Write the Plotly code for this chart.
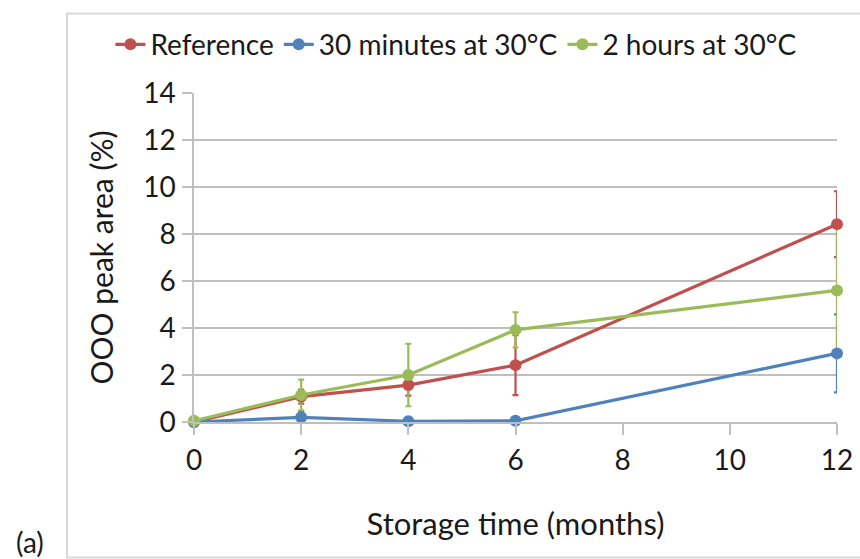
import plotly.graph_objects as go

# ---- data ----
months = [0, 2, 4, 6, 12]
series_names = ["Reference", "30 minutes at 30°C", "2 hours at 30°C"]
reference = [0.0, 1.08, 1.57, 2.42, 8.42]
reference_err = [0.0, 0.30, 0.45, 1.28, 1.40]
min30 = [0.0, 0.20, 0.03, 0.05, 2.92]
min30_err = [0.0, 0.25, 0.08, 0.10, 1.66]
hours2 = [0.05, 1.15, 2.00, 3.92, 5.60]
hours2_err = [0.0, 0.65, 1.33, 0.75, 2.75]
x_ticks = [0, 2, 4, 6, 8, 10, 12]
y_ticks = [0, 2, 4, 6, 8, 10, 12, 14]

colors = ["#C0504D", "#4F81BD", "#9BBB59"]
values = [reference, min30, hours2]
errors = [reference_err, min30_err, hours2_err]

FONT = "Lato, 'Open Sans', sans-serif"

fig = go.Figure()

# error bars first, so that all markers sit on top of them
for vals, errs, col in zip(values, errors, colors):
    fig.add_trace(go.Scatter(
        x=months, y=vals, mode="markers",
        marker=dict(size=2, color="rgba(0,0,0,0)"),
        error_y=dict(type="data", array=errs, visible=True,
                     color=col, thickness=2.2, width=3),
        showlegend=False, hoverinfo="skip", cliponaxis=False,
    ))

for name, vals, col in zip(series_names, values, colors):
    fig.add_trace(go.Scatter(
        x=months, y=vals, mode="lines+markers", name=name,
        line=dict(color=col, width=3.2),
        marker=dict(color=col, size=12, symbol="circle"),
        cliponaxis=False,
    ))

axis_grey = "#BFBFBF"
fig.update_layout(
    width=860, height=559,
    margin=dict(l=194, r=23, t=93, b=137, autoexpand=False),
    paper_bgcolor="white", plot_bgcolor="white",
    font=dict(family=FONT, size=28, color="#1a1a1a"),
    showlegend=True,
    legend=dict(orientation="h", x=-0.13, xanchor="left",
                y=1.147, yanchor="middle",
                font=dict(family=FONT, size=28, color="#1a1a1a"),
                itemwidth=30, tracegroupgap=0, bgcolor="rgba(0,0,0,0)"),
    xaxis=dict(range=[0, 12], tickvals=x_ticks, showgrid=False,
               showline=True, linecolor=axis_grey, linewidth=1.5,
               ticks="outside", ticklen=11, tickcolor=axis_grey, tickwidth=1.5,
               zeroline=False, ticklabelstandoff=2, automargin=False,
               tickfont=dict(family=FONT, size=28),
               title=dict(text="Storage time (months)", standoff=38,
                          font=dict(family=FONT, size=31))),
    yaxis=dict(range=[0, 14], tickvals=y_ticks, showgrid=True,
               gridcolor=axis_grey, gridwidth=1.5,
               showline=True, linecolor=axis_grey, linewidth=1.5,
               ticks="outside", ticklen=10, tickcolor=axis_grey, tickwidth=1.5,
               zeroline=False, ticklabelstandoff=1, automargin=False,
               tickfont=dict(family=FONT, size=28),
               title=dict(text="OOO peak area (%)", standoff=21,
                          font=dict(family=FONT, size=30))),
    shapes=[dict(type="rect", xref="paper", yref="paper",
                 x0=-0.1975, x1=1.04, y0=-0.412, y1=1.2415,
                 line=dict(color="#D9D9D9", width=2), fillcolor="rgba(0,0,0,0)",
                 layer="below")],
    annotations=[dict(text="(a)", xref="paper", yref="paper",
                      x=-0.255, y=-0.365, xanchor="center", yanchor="middle",
                      showarrow=False, font=dict(family=FONT, size=28))],
)

fig.write_html("out.html")
